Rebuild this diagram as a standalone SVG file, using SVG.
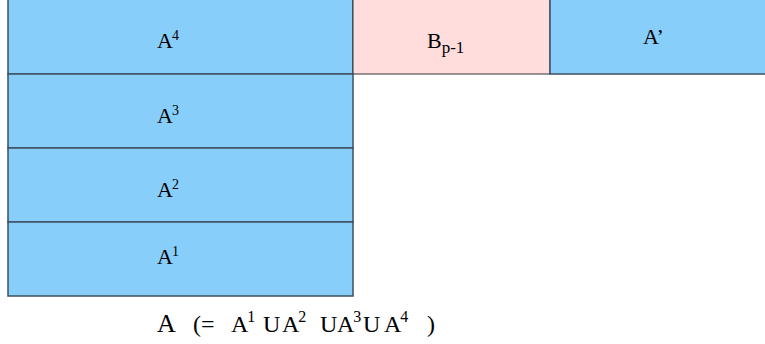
<svg xmlns="http://www.w3.org/2000/svg" width="765" height="344" viewBox="0 0 765 344">
<style>
.b{fill:#87CEFA;stroke:#3c5060;stroke-width:1.5}
.p{fill:#FFDDDD;stroke:#333;stroke-width:1}
text{font-family:"Liberation Serif","Times New Roman",serif;fill:#000}
.t{font-size:22px}
.s{font-size:14px}
.c{font-size:24px}
.cs{font-size:16px}
</style>
<rect x="0" y="0" width="765" height="344" fill="#fff"/>
<g id="A4"><rect class="b" x="8" y="-1" width="345" height="75"/><text class="t" x="157" y="48">A<tspan class="s" dx="-1" dy="-8">4</tspan></text></g>
<g id="Bp1"><rect class="p" x="353" y="-1" width="197" height="75"/><text class="t" x="427" y="48">B<tspan font-size="17" dy="5">p-1</tspan></text></g>
<g id="Aprime"><rect class="b" x="550" y="-1" width="216" height="75"/><text class="t" x="643" y="44">A’</text></g>
<g id="A3"><rect class="b" x="8" y="74" width="345" height="74"/><text class="t" x="157" y="123">A<tspan class="s" dx="-1" dy="-8">3</tspan></text></g>
<g id="A2"><rect class="b" x="8" y="148" width="345" height="74"/><text class="t" x="157" y="197">A<tspan class="s" dx="-1" dy="-8">2</tspan></text></g>
<g id="A1"><rect class="b" x="8" y="222" width="345" height="74"/><text class="t" x="157" y="264">A<tspan class="s" dx="-1" dy="-8">1</tspan></text></g>
<g id="caption">
<text x="157" y="332" font-size="26">A</text>
<text class="c" x="193" y="332">(=</text>
<text class="c" x="231" y="332">A<tspan class="cs" dx="-1" dy="-10">1</tspan></text>
<text class="c" x="263" y="332">U</text>
<text class="c" x="282" y="332">A<tspan class="cs" dx="-1" dy="-10">2</tspan></text>
<text class="c" x="320" y="332">U</text>
<text class="c" x="337" y="332">A<tspan class="cs" dx="-1" dy="-10">3</tspan></text>
<text class="c" x="363" y="332">U</text>
<text class="c" x="384" y="332">A<tspan class="cs" dx="-1" dy="-10">4</tspan></text>
<text class="c" x="427" y="332">)</text>
</g>
</svg>
